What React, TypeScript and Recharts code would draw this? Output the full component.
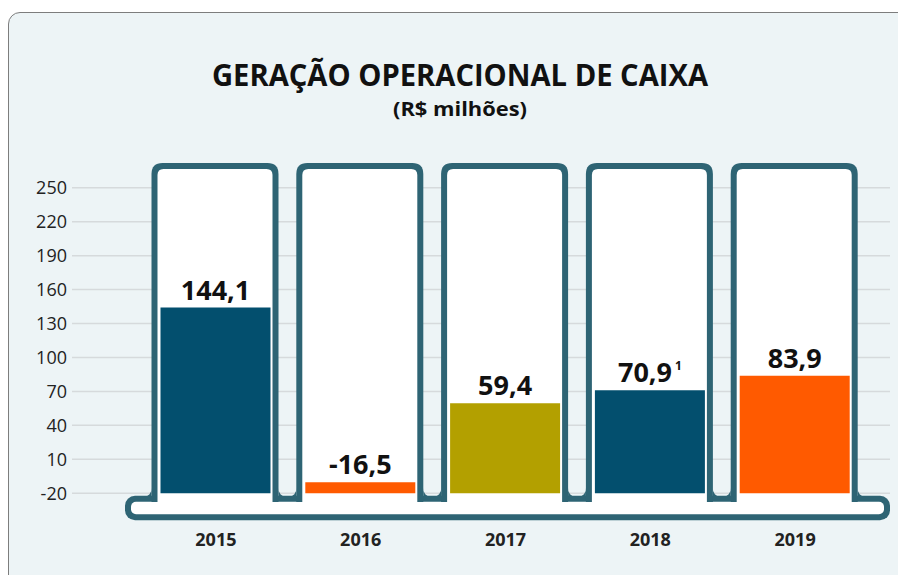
import React from "react";
import { BarChart, Bar, XAxis, YAxis, CartesianGrid, Cell, LabelList, ReferenceArea } from "recharts";

const years = ["2015", "2016", "2017", "2018", "2019"];
const values = [144.1, -16.5, 59.4, 70.9, 83.9];
const notes = ["", "", "", "1", ""];
const barColors = ["#034F6E", "#FF5A00", "#B3A000", "#034F6E", "#FF5A00"];
const yTicks = [-20, 10, 40, 70, 100, 130, 160, 190, 220, 250];
const baseValue = -20;

const data = years.map((year, i) => ({ year, range: [baseValue, values[i]] }));

const teal = "#2E6474";
const font = "'Open Sans', sans-serif";

// white tube behind each bar, with small fillets where it meets the base
const Tube = (props: any) => {
    const { x, y, width, height } = props;
    const l = x - 9;
    const r = x + width + 8;
    const top = y;
    const bottom = y + height - 16;
    const joint = y + height - 22;
    const s = 6;
    const rad = 11;
    const ir = 6;
    const f = 8;
    const il = l + s, ir2 = r - s, it = top + s, ib = y + height - 4;
    return (
        <g>
            <path d={`M${l - f},${joint + 1} A${f},${f} 0 0 0 ${l},${joint - f} L${l},${joint + 1} Z`} fill={teal} />
            <path d={`M${r + f},${joint + 1} A${f},${f} 0 0 1 ${r},${joint - f} L${r},${joint + 1} Z`} fill={teal} />
            <path
                d={`M${l},${bottom} L${l},${top + rad} Q${l},${top} ${l + rad},${top} L${r - rad},${top} Q${r},${top} ${r},${top + rad} L${r},${bottom} Z`}
                fill={teal}
            />
            <path
                d={`M${il},${ib} L${il},${it + ir} Q${il},${it} ${il + ir},${it} L${ir2 - ir},${it} Q${ir2},${it} ${ir2},${it + ir} L${ir2},${ib} Z`}
                fill="#fff"
            />
        </g>
    );
};

// base of the comb
const Base = (props: any) => {
    const { x, y, width, height } = props;
    const l = x - 18.5;
    const w = width + 18.5 + 22.5;
    return (
        <g>
            <rect x={l} y={y} width={w} height={height} rx={10} fill={teal} />
            <rect x={l + 6} y={y + 6} width={w - 12} height={height - 12} rx={5} fill="#fff" />
        </g>
    );
};

const ValueLabel = (props: any) => {
    const { x, y, width, index } = props;
    const label = values[index].toFixed(1).replace(".", ",");
    return (
        <text x={x + width / 2} y={y - 8} textAnchor="middle" fontFamily={font} fontWeight={700} fontSize={27} fill="#111">
            {label}
            {notes[index] && (
                <tspan fontSize={12} dx={3} dy={-12}>{notes[index]}</tspan>
            )}
        </text>
    );
};

export default function App() {
    return (
        <div style={{ position: "absolute", left: 0, top: 0, width: 898, height: 575, overflow: "hidden", background: "#fff" }}>
            <div
                style={{
                    position: "absolute",
                    left: 8,
                    top: 12,
                    width: 940,
                    height: 620,
                    border: "1.5px solid #7d7d7d",
                    borderRadius: 12,
                    background: "#EDF4F6",
                }}
            />
            <svg width={898} height={140} style={{ position: "absolute", left: 0, top: 0 }}>
                <text x={460} y={86} textAnchor="middle" fontFamily={font} fontWeight={700} fontSize={31} fill="#111" textLength={496} lengthAdjust="spacingAndGlyphs">
                    GERAÇÃO OPERACIONAL DE CAIXA
                </text>
                <text x={460} y={116} textAnchor="middle" fontFamily={font} fontWeight={700} fontSize={19} fill="#111" textLength={134} lengthAdjust="spacingAndGlyphs">
                    (R$ milhões)
                </text>
            </svg>
            <div style={{ position: "absolute", left: 0, top: 0 }}>
                <BarChart width={898} height={575} data={data} margin={{ top: 163, right: 8, bottom: 17, left: 0 }}>
                    <CartesianGrid vertical={false} horizontalValues={yTicks} stroke="#D6DADC" strokeWidth={1.5} />
                    <ReferenceArea y1={-44} y2={-22.3} shape={Base} zIndex={-75} ifOverflow="visible" />
                    <XAxis
                        dataKey="year"
                        axisLine={false}
                        tickLine={false}
                        tickSize={0}
                        tickMargin={15}
                        height={40}
                        padding={{ left: 71.5, right: 22.5 }}
                        tick={{ fontFamily: font, fontWeight: 700, fontSize: 18, fill: "#222" }}
                    />
                    <YAxis
                        domain={[-42, 272]}
                        ticks={yTicks}
                        interval={0}
                        width={72}
                        axisLine={false}
                        tickLine={false}
                        tickSize={0}
                        tickMargin={5}
                        tick={{ fontFamily: font, fontSize: 18, fill: "#222" }}
                    />
                    <Bar dataKey="range" barSize={110} minPointSize={11} background={Tube} isAnimationActive={false}>
                        {data.map((d, i) => (
                            <Cell key={d.year} fill={barColors[i]} />
                        ))}
                        <LabelList dataKey="range" content={ValueLabel} />
                    </Bar>
                </BarChart>
            </div>
        </div>
    );
}
